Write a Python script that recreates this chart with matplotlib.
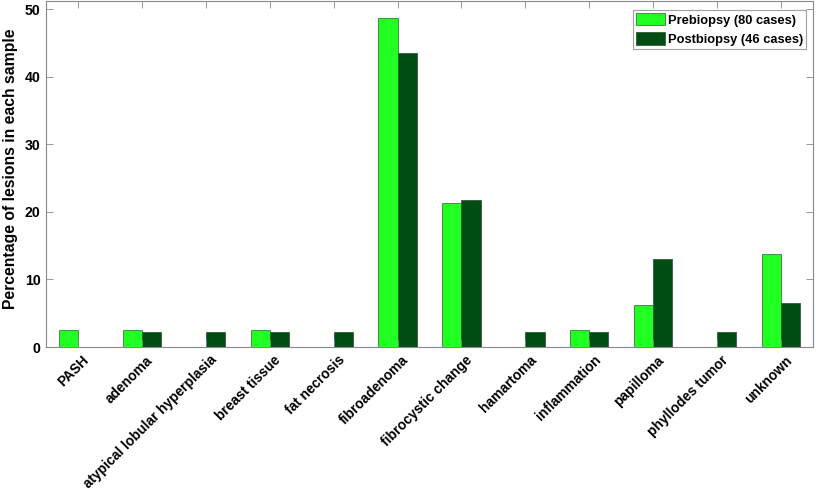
import matplotlib
matplotlib.use("Agg")
import matplotlib.pyplot as plt
import matplotlib.transforms as mtransforms
import numpy as np

categories = ["PASH", "adenoma", "atypical lobular hyperplasia", "breast tissue",
              "fat necrosis", "fibroadenoma", "fibrocystic change", "hamartoma",
              "inflammation", "papilloma", "phyllodes tumor", "unknown"]
prebiopsy = [2.5, 2.5, 0, 2.5, 0, 48.75, 21.25, 0, 2.5, 6.25, 0, 13.75]
postbiopsy = [0, 2.17, 2.17, 2.17, 2.17, 43.48, 21.74, 2.17, 2.17, 13.04, 2.17, 6.52]
series_labels = ["Prebiopsy (80 cases)", "Postbiopsy (46 cases)"]
yticks = [0, 10, 20, 30, 40, 50]

plt.rcParams['font.family'] = ['Liberation Sans', 'DejaVu Sans']
plt.rcParams['font.weight'] = 'bold'

fig = plt.figure(figsize=(8.16, 4.9), dpi=100)
ax = fig.add_axes([0.0564, 0.2918, 0.9399, 0.7062])

x = np.arange(1, len(categories) + 1)
w = 0.3
ax.bar(x - w/2, prebiopsy, w, color='#22ff22', edgecolor='#3a7a3a', linewidth=0.6, label=series_labels[0])
ax.bar(x + w/2, postbiopsy, w, color='#004d14', edgecolor='#2f5f3a', linewidth=0.6, label=series_labels[1])

ax.set_xlim(0.5, 12.5)
ax.set_ylim(0, 51.2)
ax.set_xticks(x)
ax.set_xticklabels([''] * len(categories))
base = mtransforms.blended_transform_factory(ax.transData, ax.transAxes)
offset = mtransforms.ScaledTranslation(9/100, -11/100, fig.dpi_scale_trans)
for xi, name in zip(x, categories):
    ax.text(xi, 0, name, transform=base + offset, rotation=45, ha='right', va='center',
            rotation_mode='anchor', fontsize=9.9, fontweight='bold', clip_on=False)
ax.set_yticks(yticks)
ax.set_yticklabels([str(v) for v in yticks], fontsize=10.2, fontweight='bold')
ax.tick_params(axis='both', direction='in', top=True, right=True, length=5, color='#888888', width=0.6)
ax.tick_params(axis='y', pad=4)
for s in ax.spines.values():
    s.set_color('#888888')
    s.set_linewidth(0.8)
ax.set_ylabel("Percentage of lesions in each sample", fontsize=11.3, fontweight='bold')
ax.yaxis.set_label_coords(-0.037, 0.515)

leg = ax.legend(loc='upper right', bbox_to_anchor=(0.991, 0.975), fontsize=9.3, frameon=True,
                fancybox=False, edgecolor='#888888', handlelength=2.25, handleheight=1.12,
                handletextpad=0.2, borderpad=0.25, labelspacing=0.42, borderaxespad=0)
leg.get_frame().set_linewidth(0.8)
for t in leg.get_texts():
    t.set_fontweight('bold')

fig.savefig("out.png", dpi=100)
